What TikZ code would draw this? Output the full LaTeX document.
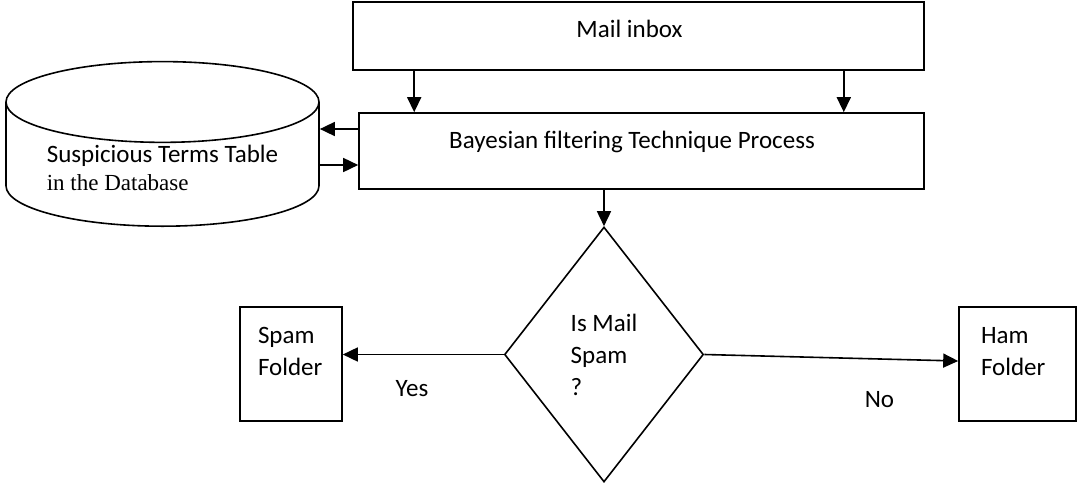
\documentclass[tikz,border=0pt]{standalone}
\usepackage{fontspec}
\setmainfont{Carlito}
\newfontfamily\dbfont{Liberation Serif}
\usetikzlibrary{shapes.geometric,arrows.meta}

\tikzset{
    box/.style={draw, rectangle, line width=0.8pt, inner sep=0pt},
    arr/.style={-{Triangle[length=7.5pt,width=7pt]}, line width=0.8pt},
}

\begin{document}
\begin{tikzpicture}[x=0.5pt, y=-0.5pt, font=\fontsize{12.5}{16}\selectfont]
        \useasboundingbox (0,0) rectangle (1078,483);
        % boxes
        \node [box, minimum width=285.5pt, minimum height=34pt, text height=9pt, text depth=8pt]
            (inbox) at (638.5,36) {Mail inbox\kern9pt};
        \node [box, minimum width=282.5pt, minimum height=38pt, text height=9pt, text depth=12pt]
            (bayes) at (641.5,151) {Bayesian filtering Technique Process\kern9.5pt};
        \node [draw, cylinder, shape border rotate=90, aspect=0.33, line width=0.8pt,
            minimum width=156.5pt, align=left, anchor=south, text height=20.5pt, text depth=0pt,
            font=\fontsize{12.5}{14}\selectfont]
            (db) at (162.5,227) {Suspicious Terms Table\\{\dbfont\fontsize{11.5}{14}\selectfont in the Database}};
        \node [draw, diamond, aspect=0.78, minimum width=99.5pt, minimum height=127.5pt,
            inner sep=0pt, align=left, line width=0.8pt]
            (dia) at (604,354.5) {Is Mail\\Spam\\?};
        \node [box, minimum width=51pt, minimum height=57pt, text width=33pt, align=left,
            text height=9pt, text depth=30pt] (spam) at (291,364) {Spam\\Folder};
        \node [box, minimum width=58.5pt, minimum height=57pt, text width=36.5pt, align=left,
            text height=9pt, text depth=30pt] (ham) at (1017.5,364) {Ham\\Folder};
        % connectors
        \coordinate (in1) at ([xshift=31pt]inbox.south west);
        \coordinate (in2) at ([xshift=-40.5pt]inbox.south east);
        \draw [arr] (in1) -- (in1 |- bayes.north);
        \draw [arr] (in2) -- (in2 |- bayes.north);
        \coordinate (b1) at ([yshift=11pt]bayes.west);
        \coordinate (b2) at ([yshift=-7pt]bayes.west);
        \draw [arr] (b1) -- (b1 -| db.east);
        \draw [arr] (b2 -| db.east) -- (b2);
        \draw [arr] (dia.north |- bayes.south) -- (dia.north);
        \draw [arr] (dia.west) -- (dia.west -| spam.east)
            node [pos=0.57, below=12.5pt, inner sep=0pt] (yes) {Yes};
        \draw [arr] (dia.east) -- ([yshift=1.5pt]ham.west)
            node [pos=0.69, below=16pt, inner sep=0pt] (no) {No};
\end{tikzpicture}
\end{document}
